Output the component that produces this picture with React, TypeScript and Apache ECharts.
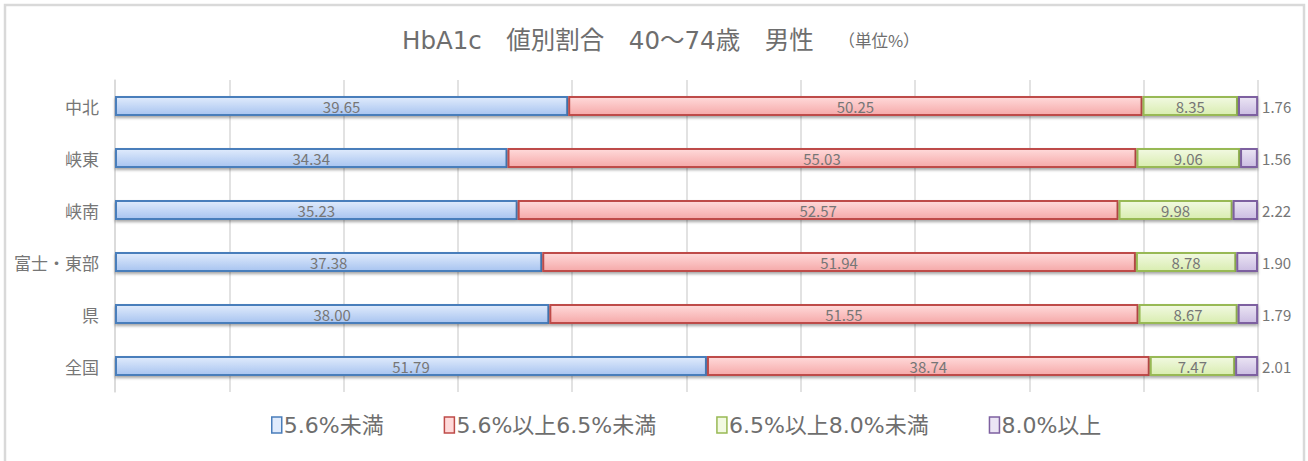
import React, { useEffect, useRef } from "react";
import * as echarts from "echarts";

const categories = ["中北", "峡東", "峡南", "富士・東部", "県", "全国"];
const seriesNames = ["5.6%未満", "5.6%以上6.5%未満", "6.5%以上8.0%未満", "8.0%以上"];
const s1 = [39.65, 34.34, 35.23, 37.38, 38.0, 51.79];
const s2 = [50.25, 55.03, 52.57, 51.94, 51.55, 38.74];
const s3 = [8.35, 9.06, 9.98, 8.78, 8.67, 7.47];
const s4 = [1.76, 1.56, 2.22, 1.9, 1.79, 2.01];
const titleText = "HbA1c　値別割合　40～74歳　男性";
const unitText = "（単位%）";

const FONT = "'Noto Sans CJK JP', 'Noto Sans', sans-serif";
const WIDE = "'DejaVu Sans', 'Noto Sans CJK JP', sans-serif";

const styles = [
  { top: "#e0ebfc", bottom: "#a8c4f0", border: "#4a7ebb" },
  { top: "#ffdada", bottom: "#f5a9a9", border: "#be4b48" },
  { top: "#f2f9e2", bottom: "#d9edb0", border: "#98b954" },
  { top: "#ebe5f4", bottom: "#cbbde2", border: "#7d60a0" },
];

export default function App() {
  const ref = useRef<HTMLDivElement>(null);
  useEffect(() => {
    if (!ref.current) return;
    const chart = echarts.init(ref.current, undefined, { renderer: "svg" });
    const data = [s1, s2, s3, s4];
    const series = data.map((d, i) => ({
      name: seriesNames[i],
      type: "bar",
      stack: "total",
      barWidth: 20,
      data: d,
      itemStyle: {
        color: new echarts.graphic.LinearGradient(0, 0, 0, 1, [
          { offset: 0, color: styles[i].top },
          { offset: 1, color: styles[i].bottom },
        ]),
        borderColor: styles[i].border,
        borderWidth: 2,
        shadowColor: "rgba(0,0,0,0.35)",
        shadowBlur: 3,
        shadowOffsetY: 2,
      },
      label: {
        show: true,
        position: i === 3 ? "right" : "inside",
        distance: 4,
        color: "#767676",
        fontSize: 15,
        fontFamily: FONT,
        formatter: (p: any) => Number(p.value).toFixed(2),
      },
    }));
    chart.setOption({
      animation: false,
      backgroundColor: "#ffffff",
      graphic: [
        {
          type: "rect",
          shape: { x: 5, y: 5, width: 1299, height: 480 },
          style: { fill: "none", stroke: "#d9d9d9", lineWidth: 2.5 },
          silent: true,
        },
      ],
      title: {
        text: `{m|${titleText}}{s|　　${unitText}}`,
        left: 397,
        top: 23,
        textStyle: {
          rich: {
            m: { fontSize: 24.5, color: "#6e6e6e", fontFamily: WIDE, fontWeight: "normal" },
            s: { fontSize: 16.5, color: "#6e6e6e", fontFamily: FONT, fontWeight: "normal" },
          },
        },
      },
      legend: {
        bottom: 20,
        left: 266,
        itemWidth: 10,
        itemHeight: 16,
        itemGap: 60,
        icon: "rect",
        textStyle: { fontSize: 22, color: "#6e6e6e", fontFamily: WIDE, padding: [0, 0, 0, -3] },
        data: seriesNames.map((n, i) => ({
          name: n,
          itemStyle: { color: styles[i].top, borderColor: styles[i].border, borderWidth: 1.5 },
        })),
      },
      grid: { left: 115, right: 50, top: 80, bottom: 69, containLabel: false },
      xAxis: {
        type: "value",
        min: 0,
        max: 100,
        interval: 10,
        axisLabel: { show: false },
        axisLine: { show: false },
        axisTick: { show: false },
        splitLine: { show: true, lineStyle: { color: "#d9d9d9", width: 1.5 } },
      },
      yAxis: {
        type: "category",
        inverse: true,
        data: categories,
        axisLine: { show: true, lineStyle: { color: "#d9d9d9", width: 1.5 } },
        axisTick: { show: false },
        axisLabel: { color: "#767676", fontSize: 17, fontFamily: FONT, margin: 16 },
      },
      series,
    });
    return () => chart.dispose();
  }, []);
  return (
    <div
      ref={ref}
      style={{ position: "absolute", left: 0, top: 0, width: 1308, height: 461 }}
    />
  );
}
